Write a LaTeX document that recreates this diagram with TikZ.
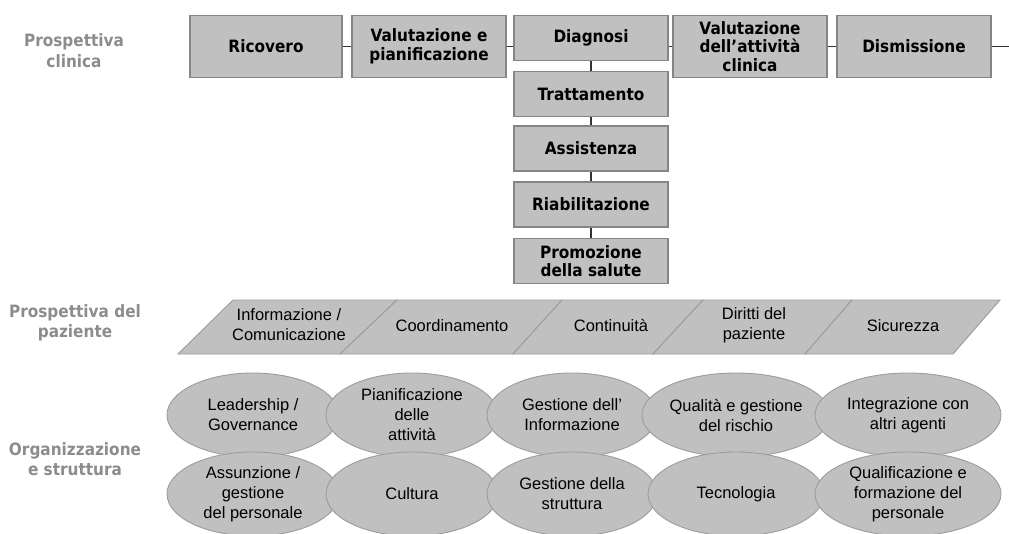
\documentclass[tikz,border=0pt]{standalone}
\usepackage{fontspec}
\setmainfont{Liberation Sans}
\newfontfamily\boldf{DejaVu Sans}[FakeStretch=0.9]
\usetikzlibrary{shapes.geometric}
\definecolor{boxfill}{HTML}{C0C0C0}
\definecolor{boxborder}{HTML}{858585}
\definecolor{softborder}{HTML}{9C9C9C}
\definecolor{labelgray}{HTML}{8C8C8C}
\definecolor{linkcol}{HTML}{333333}
\tikzset{
  stepbox/.style={draw=boxborder, line width=1.6, fill=boxfill, minimum width=152, minimum height=62,
    inner sep=0, align=center, font=\boldf\bfseries\fontsize{17}{18.5}\selectfont},
  colbox/.style={stepbox, minimum height=45},
  link/.style={draw=linkcol, line width=1.8},
  sidelabel/.style={text=labelgray, align=center, font=\boldf\bfseries\fontsize{17}{20.5}\selectfont},
  cell/.style={fill=boxfill, draw=softborder, line width=0.9},
  celltext/.style={align=center, font=\fontsize{16.5}{20}\selectfont},
  oval/.style={ellipse, fill=boxfill, draw=softborder, line width=0.9, inner sep=0,
    minimum height=84, align=center, font=\fontsize{16.5}{20}\selectfont},
}
\begin{document}
\begin{tikzpicture}[x=1pt,y=-1pt]
\useasboundingbox (0,0) rectangle (1009,533);
% left labels
\node[sidelabel] (lclin) at (74,50.5) {Prospettiva\\clinica};
\node[sidelabel] (lpaz) at (75,323) {Prospettiva del\\paziente};
\node[sidelabel] (lorg) at (75,459) {Organizzazione\\e struttura};
% clinical path
\coordinate (tail) at (1009,46.5);
\node[stepbox] (ric) at (266,46.5) {Ricovero};
\node[stepbox, minimum width=154] (val) at (429,46.5) {Valutazione e\\pianificazione};
\node[colbox, minimum width=154] (dia) at (591,38) {Diagnosi};
\node[stepbox, minimum width=154] (vat) at (750,46.5) {Valutazione\\dell’attività\\clinica};
\node[stepbox, minimum width=154] (dis) at (914,46.5) {Dismissione};
\node[colbox, minimum width=154] (tra) at (591,94) {Trattamento};
\node[colbox, minimum width=154] (ass) at (591,148.5) {Assistenza};
\node[colbox, minimum width=154] (ria) at (591,204.5) {Riabilitazione};
\node[colbox, minimum width=154] (pro) at (591,261) {Promozione\\della salute};
\draw[link] (ric.east) -- (val.west);
\draw[link] (val.east) -- (val.east -| dia.west);
\draw[link] (vat.west -| dia.east) -- (vat.west);
\draw[link] (vat.east) -- (dis.west);
\draw[link] (dis.east) -- (tail);
\draw[link] (dia.south) -- (tra.north);
\draw[link] (tra.south) -- (ass.north);
\draw[link] (ass.south) -- (ria.north);
\draw[link] (ria.south) -- (pro.north);
% patient perspective band
\path[cell] (233,300) -- (397,300) -- (340,354) -- (178,354) -- cycle;
\path[cell] (397,300) -- (562,300) -- (513,354) -- (340,354) -- cycle;
\path[cell] (562,300) -- (703,300) -- (653,354) -- (513,354) -- cycle;
\path[cell] (703,300) -- (852,300) -- (805,354) -- (653,354) -- cycle;
\path[cell] (852,300) -- (1000,300) -- (953,354) -- (805,354) -- cycle;
\node[celltext] (c1) at (289,325) {Informazione /\\Comunicazione};
\node[celltext] (c2) at (452,326) {Coordinamento};
\node[celltext] (c3) at (611,326) {Continuità};
\node[celltext] (c4) at (754,325) {Diritti del\\paziente};
\node[celltext] (c5) at (903,326) {Sicurezza};
% organisation ovals
\node[oval, minimum width=172] (o1) at (253,415) {Leadership /\\Governance};
\node[oval, minimum width=172] (o2) at (412,415) {Pianificazione\\delle\\attività};
\node[oval, minimum width=170] (o3) at (572,415) {Gestione dell’\\Informazione};
\node[oval, minimum width=176] (o4) at (736,415) {Qualità e gestione\\del rischio};
\node[oval, minimum width=186] (o5) at (908,415) {Integrazione con\\altri agenti};
\node[oval, minimum width=172] (o6) at (253,494) {Assunzione /\\gestione\\del personale};
\node[oval, minimum width=172] (o7) at (412,494) {Cultura};
\node[oval, minimum width=170] (o8) at (572,494) {Gestione della\\struttura};
\node[oval, minimum width=176] (o9) at (736,494) {Tecnologia};
\node[oval, minimum width=186] (o10) at (908,494) {Qualificazione e\\formazione del\\personale};
\end{tikzpicture}
\end{document}
